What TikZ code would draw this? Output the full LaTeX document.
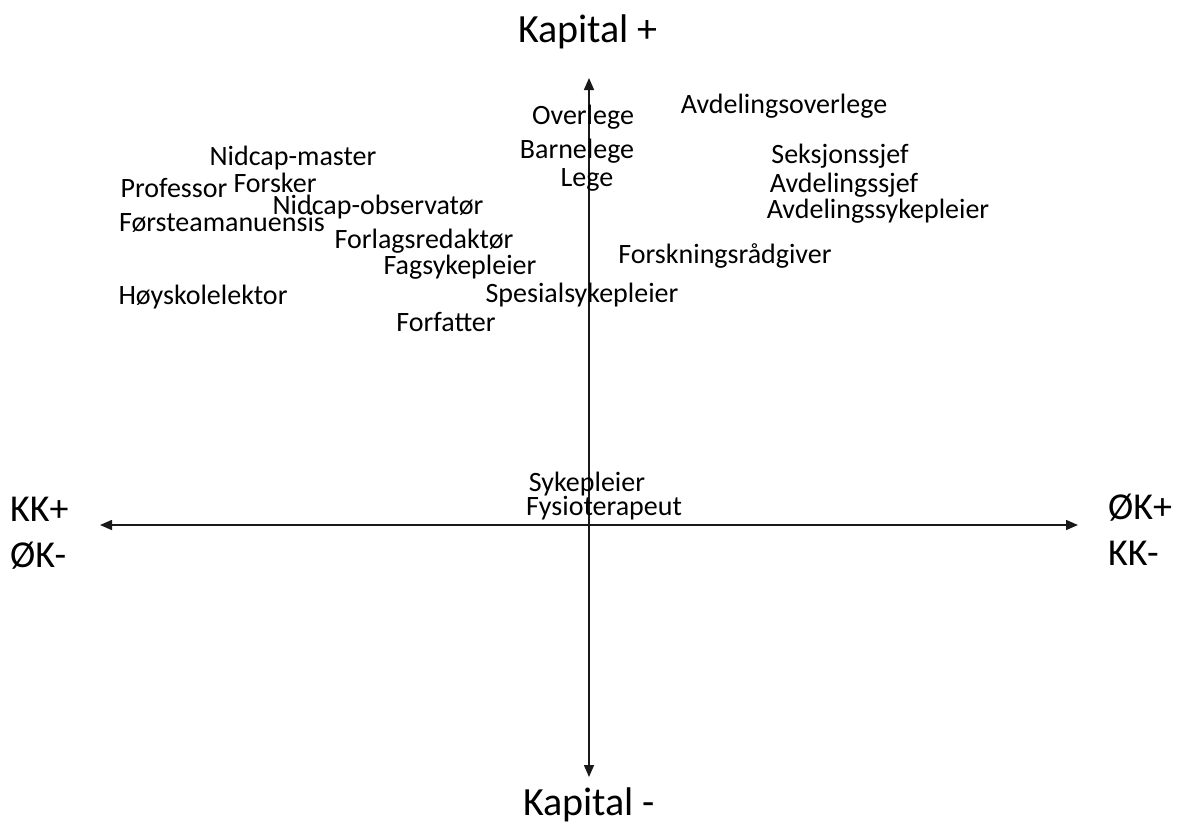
\documentclass[tikz,border=0pt]{standalone}
\usepackage{fontspec}
\setmainfont{Carlito}
\usetikzlibrary{arrows.meta}

\begin{document}
\begin{tikzpicture}[
    x=1pt, y=-1pt,
    axis/.style={{Triangle[length=12pt,width=10pt]}-{Triangle[length=12pt,width=10pt]}, line width=1.5pt, color=black!90},
    pole/.style={font=\fontsize{40}{44}\selectfont, inner sep=0pt, text=black},
    side/.style={font=\fontsize{38}{46}\selectfont, inner sep=0pt, align=left, text=black},
    job/.style={font=\fontsize{28}{30}\selectfont, inner sep=0pt, text=black}
]
\useasboundingbox (0,0) rectangle (1183,827);

% poles of the axes
\node[pole] (kplus)  at (588,32)  {Kapital +};
\node[pole] (kminus) at (589,805) {Kapital -};
\node[side, anchor=west] (left)  at (10,533)  {KK+\\ØK-};
\node[side, anchor=west] (right) at (1108,530) {ØK+\\KK-};

% axes
\coordinate (top)    at (589,78);
\coordinate (bottom) at (589,777);
\coordinate (west)   at (100,525);
\coordinate (east)   at (1078,525);
\draw[axis] (bottom) -- (top);
\draw[axis] (west) -- (east);

% occupations
\node[job] (overlege)   at (583,117) {Overlege};
\node[job] (avdover)    at (784,106) {Avdelingsoverlege};
\node[job] (barnelege)  at (577,151) {Barnelege};
\node[job] (lege)       at (587,180) {Lege};
\node[job] (seksjon)    at (840,156) {Seksjonssjef};
\node[job] (avdsjef)    at (844,185) {Avdelingssjef};
\node[job] (avdsyk)     at (878,211) {Avdelingssykepleier};
\node[job] (nidmaster)  at (293,158) {Nidcap-master};
\node[job] (professor)  at (174,188) {Professor};
\node[job] (forsker)    at (275,183) {Forsker};
\node[job] (nidobs)     at (378,207) {Nidcap-observatør};
\node[job] (forsteam)   at (222,222) {Førsteamanuensis};
\node[job] (forlag)     at (424,241) {Forlagsredaktør};
\node[job] (fagsyk)     at (460,267) {Fagsykepleier};
\node[job] (raadgiver)  at (725,256) {Forskningsrådgiver};
\node[job] (hoyskole)   at (203,297) {Høyskolelektor};
\node[job] (spesial)    at (582,295) {Spesialsykepleier};
\node[job] (forfatter)  at (446,322) {Forfatter};
\node[job] (sykepleier) at (587,484) {Sykepleier};
\node[job] (fysio)      at (604,508) {Fysioterapeut};

\end{tikzpicture}
\end{document}
